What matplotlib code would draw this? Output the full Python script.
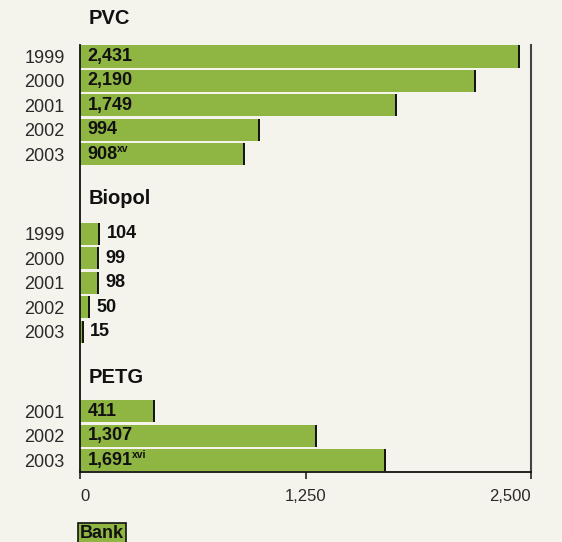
import matplotlib
matplotlib.use("Agg")
import matplotlib.pyplot as plt

plt.rcParams['font.family'] = ['Liberation Sans', 'DejaVu Sans']

groups = ["PVC", "Biopol", "PETG"]
pvc_years = ["1999", "2000", "2001", "2002", "2003"]
pvc_values = [2431, 2190, 1749, 994, 908]
pvc_labels = ["2,431", "2,190", "1,749", "994", "908"]
pvc_notes = ["", "", "", "", "xv"]

biopol_years = ["1999", "2000", "2001", "2002", "2003"]
biopol_values = [104, 99, 98, 50, 15]
biopol_labels = ["104", "99", "98", "50", "15"]

petg_years = ["2001", "2002", "2003"]
petg_values = [411, 1307, 1691]
petg_labels = ["411", "1,307", "1,691"]
petg_notes = ["", "", "xvi"]

x_ticks = [0, 1250, 2500]
x_tick_labels = ["0", "1,250", "2,500"]
legend_label = "Bank"

BG = "#f5f4ec"
GREEN = "#8fb542"
TXT = "#2a2a2a"

fig = plt.figure(figsize=(5.62, 5.42), dpi=100, facecolor=BG)
ax = fig.add_axes([80/562, (542-472)/542, 451/562, 427/542], facecolor=BG)

pos_pvc = [0, 1, 2, 3, 4]
pos_bio = [7.25, 8.25, 9.25, 10.25, 11.25]
pos_petg = [14.5, 15.5, 16.5]
title_pos = [-1.55, 5.8, 13.1]
h = 0.9

ax.set_xlim(0, 2500)
ax.set_ylim(16.98, -0.47)

def draw(pos, vals):
    ax.barh(pos, vals, height=h, color=GREEN, edgecolor="none", zorder=2)
    ax.vlines(vals, [p - h/2 for p in pos], [p + h/2 for p in pos],
              color="#111111", lw=1.4, zorder=3)

draw(pos_pvc, pvc_values)
draw(pos_bio, biopol_values)
draw(pos_petg, petg_values)

VFS = 13
inside = []
for p, lab in zip(pos_pvc, pvc_labels):
    inside.append(ax.annotate(lab, (0, p), xytext=(5.5, 0), textcoords="offset points",
                              ha="left", va="center", fontsize=VFS, fontweight="bold", color="#111111", zorder=4))
for p, v, lab in zip(pos_bio, biopol_values, biopol_labels):
    ax.annotate(lab, (v, p), xytext=(5.5, 0), textcoords="offset points",
                ha="left", va="center", fontsize=VFS, fontweight="bold", color="#111111", zorder=4)
petg_txt = []
for p, lab in zip(pos_petg, petg_labels):
    petg_txt.append(ax.annotate(lab, (0, p), xytext=(5.5, 0), textcoords="offset points",
                                ha="left", va="center", fontsize=VFS, fontweight="bold", color="#111111", zorder=4))

for g, tp in zip(groups, title_pos):
    ax.annotate(g, (0, tp), xytext=(6, 0), textcoords="offset points", ha="left", va="center",
                fontsize=14.5, fontweight="bold", color="#111111", annotation_clip=False)

ax.set_yticks(pos_pvc + pos_bio + pos_petg)
ax.set_yticklabels(pvc_years + biopol_years + petg_years, fontsize=13, color=TXT)
ax.tick_params(axis="y", length=0, pad=11)
ax.set_xticks(x_ticks)
ax.set_xticklabels(x_tick_labels, fontsize=12, color=TXT)
xl = ax.get_xticklabels()
xl[0].set_ha("left")
xl[-1].set_ha("right")
ax.tick_params(axis="x", length=5, width=1.2, color="#222222", pad=7, direction="out")

ax.spines["top"].set_visible(False)
for s in ["left", "bottom"]:
    ax.spines[s].set_color("#111111")
    ax.spines[s].set_linewidth(1.3)
ax.spines["right"].set_color("#444444")
ax.spines["right"].set_linewidth(1.5)

# superscript notes
fig.canvas.draw()
r = fig.canvas.get_renderer()
for t, note in list(zip(inside, pvc_notes)) + list(zip(petg_txt, petg_notes)):
    if note:
        bb = t.get_window_extent(r)
        fig.text((bb.x1 - 1) / fig.bbox.width, (bb.y1 - 3) / fig.bbox.height, note,
                 fontsize=7.5, fontweight="bold", color="#111111", ha="left", va="center")

fig.text(80/562, (542-534)/542, legend_label, fontsize=13, fontweight="bold", color="#111111",
         ha="left", va="center",
         bbox=dict(boxstyle="square,pad=0.12", facecolor=GREEN, edgecolor="#111111", linewidth=1.2))

fig.savefig("out.png", dpi=100, facecolor=BG)
